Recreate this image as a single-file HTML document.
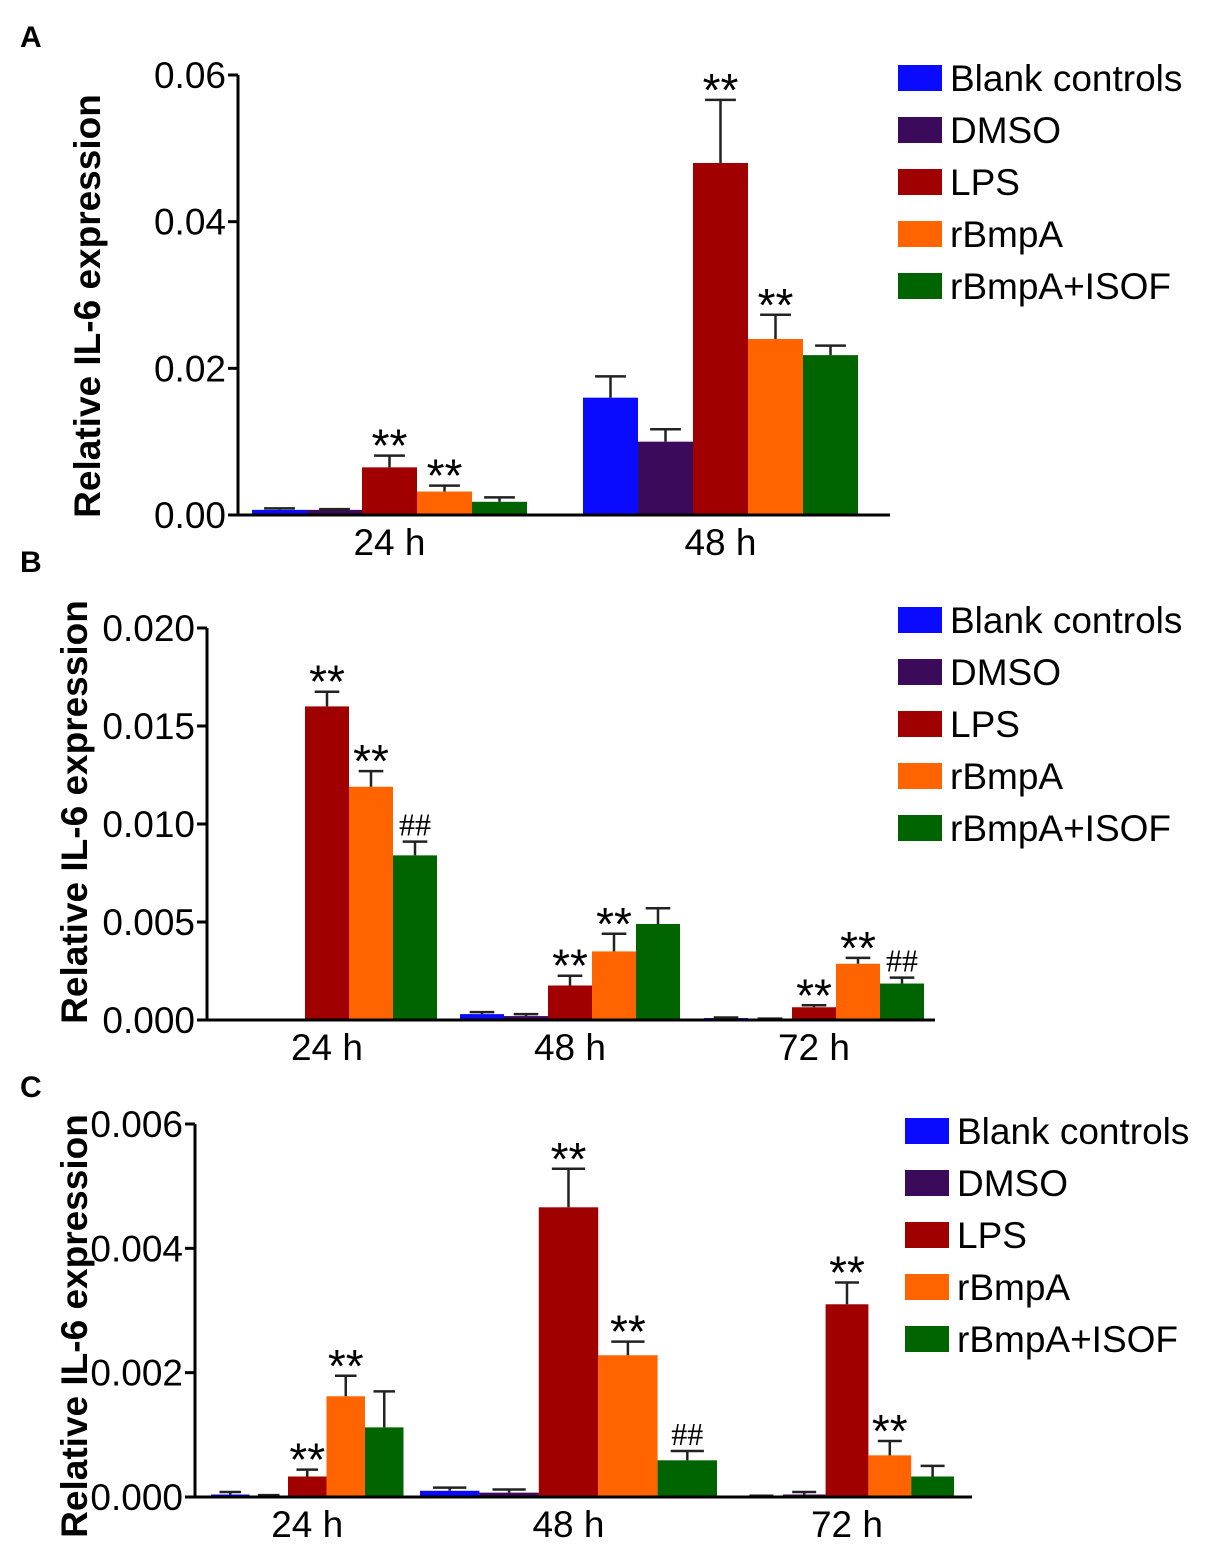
<!DOCTYPE html>
<html><head><meta charset="utf-8"><style>
html,body{margin:0;padding:0;background:#fff}
svg{display:block;font-family:"Liberation Sans",Arial,sans-serif}
</style></head><body>
<svg id="fig" width="1217" height="1557" viewBox="0 0 1217 1557" xmlns="http://www.w3.org/2000/svg"></svg>
<script>
const seriesNames = ["Blank controls","DMSO","LPS","rBmpA","rBmpA+ISOF"];
const seriesColors = ["#0a0aff","#3c0a5a","#a00000","#ff6400","#006400"];

// Panel A
const catsA = ["24 h","48 h"];
const valsA = [[0.0007,0.0007,0.0065,0.0032,0.0018],[0.016,0.010,0.048,0.024,0.0218]];
const errsA = [[0.0002,0.0001,0.0016,0.0008,0.0006],[0.0029,0.0017,0.0086,0.0033,0.0013]];
const marksA = [["","","**","**",""],["","","**","**",""]];
const ticksA = [0,0.02,0.04,0.06];
const tickLabelsA = ["0.00","0.02","0.04","0.06"];

// Panel B
const catsB = ["24 h","48 h","72 h"];
const valsB = [[0,0,0.016,0.0119,0.0084],[0.0003,0.0002,0.00176,0.0035,0.0049],[0.0001,0.00005,0.00065,0.00287,0.00186]];
const errsB = [[0,0,0.00075,0.0008,0.0007],[0.0001,0.0001,0.0005,0.0009,0.0008],[0.00003,0.00002,0.0001,0.0003,0.0003]];
const marksB = [["","","**","**","##"],["","","**","**",""],["","","**","**","##"]];
const ticksB = [0,0.005,0.010,0.015,0.020];
const tickLabelsB = ["0.000","0.005","0.010","0.015","0.020"];

// Panel C
const catsC = ["24 h","48 h","72 h"];
const valsC = [[0.00004,0.00002,0.00033,0.00162,0.00112],[0.0001,0.00007,0.00466,0.00228,0.00059],[0.00001,0.00004,0.0031,0.00067,0.00033]];
const errsC = [[0.00004,0.00001,0.00011,0.00033,0.00058],[0.00005,0.00005,0.00062,0.00022,0.00015],[0.00001,0.00004,0.00035,0.00023,0.00017]];
const marksC = [["","","**","**",""],["","","**","**","##"],["","","**","**",""]];
const ticksC = [0,0.002,0.004,0.006];
const tickLabelsC = ["0.000","0.002","0.004","0.006"];

const NS="http://www.w3.org/2000/svg";
const svg=document.getElementById('fig');
function mk(tag,attrs,parent,text){const e=document.createElementNS(NS,tag);for(const k in attrs)e.setAttribute(k,attrs[k]);if(text!==undefined)e.textContent=text;(parent||svg).appendChild(e);return e;}

function panel(cfg){
  const g=mk('g',{});
  
  
  const y=v=>cfg.y0-(v/cfg.ymax)*(cfg.y0-cfg.yTop);
  const lt=mk('text',{x:20,y:cfg.letterY,'font-size':30,'font-weight':'bold'},g,cfg.id);
  
  
  cfg.vals.forEach((grp,gi)=>{
    grp.forEach((v,si)=>{
      const x=cfg.starts[gi]+si*cfg.widths[gi], w=cfg.widths[gi];
      const r=mk('rect',{x:x,y:y(v),width:w,height:cfg.y0-y(v),fill:seriesColors[si]},g);
      
      
      const e=cfg.errs[gi][si];
      if(v>0){
        const et=y(v+e), cx=x+w/2;
        const eb=mk('path',{d:`M${cx},${y(v)}V${et}M${cx-w*0.28},${et}H${cx+w*0.28}`,stroke:'#222','stroke-width':2.5,fill:'none'},g);
        
        
        const m=cfg.marks[gi][si];
        if(m){
          const isStar=m==='**';
          const t=mk('text',{x:cx,y:isStar?et+6:et-6,'text-anchor':'middle','font-size':isStar?46:32,'font-family':isStar?'"Liberation Sans",sans-serif':'"Liberation Serif",serif'},g,m);
          
          
        }
      }
    });
  });
  const ax=mk('path',{d:`M${cfg.xAxis},${cfg.yTop}V${cfg.y0}H${cfg.xEnd}`,stroke:'#000','stroke-width':3,fill:'none'},g);
  
  
  cfg.ticks.forEach((t,i)=>{
    mk('path',{d:`M${cfg.xAxis-10},${y(t)}H${cfg.xAxis}`,stroke:'#000','stroke-width':3},g);
    const tl=mk('text',{x:cfg.xAxis-12,y:y(t)+13,'text-anchor':'end','font-size':37},g,cfg.tickLabels[i]);
    
    
  });
  cfg.cats.forEach((c,gi)=>{
    const cx=cfg.starts[gi]+2.5*cfg.widths[gi];
    const xl=mk('text',{x:cx,y:cfg.y0+40,'text-anchor':'middle','font-size':37},g,c);
    
    
  });
  const yt=mk('text',{x:0,y:0,'text-anchor':'middle','font-size':37,'font-weight':'bold',transform:`translate(${cfg.titleX},${cfg.titleY}) rotate(-90)`},g,'Relative IL-6 expression');
  
  
  seriesNames.forEach((n,i)=>{
    const ly=cfg.legY+i*52;
    const s=mk('rect',{x:cfg.legX,y:ly-13,width:44,height:26,fill:seriesColors[i]},g);
    
    
    const t=mk('text',{x:cfg.legX+52,y:ly+13,'font-size':37},g,n);
    
    
  });
}

panel({id:'A',letterY:47,vals:valsA,errs:errsA,marks:marksA,cats:catsA,ticks:ticksA,tickLabels:tickLabelsA,
  ymax:0.06,y0:515,yTop:75,xAxis:238,xEnd:890,starts:[252,583],widths:[55,55],
  titleX:100,titleY:306,legX:898,legY:78});
panel({id:'B',letterY:572,vals:valsB,errs:errsB,marks:marksB,cats:catsB,ticks:ticksB,tickLabels:tickLabelsB,
  ymax:0.020,y0:1020,yTop:628,xAxis:207,xEnd:935,starts:[217,460,704],widths:[44,44,44],
  titleX:87,titleY:812,legX:898,legY:620});
panel({id:'C',letterY:1097,vals:valsC,errs:errsC,marks:marksC,cats:catsC,ticks:ticksC,tickLabels:tickLabelsC,
  ymax:0.006,y0:1497,yTop:1124,xAxis:195,xEnd:972,starts:[211,420,740],widths:[38.5,59.4,42.8],
  titleX:87,titleY:1326,legX:905,legY:1131});
</script>
</body></html>
